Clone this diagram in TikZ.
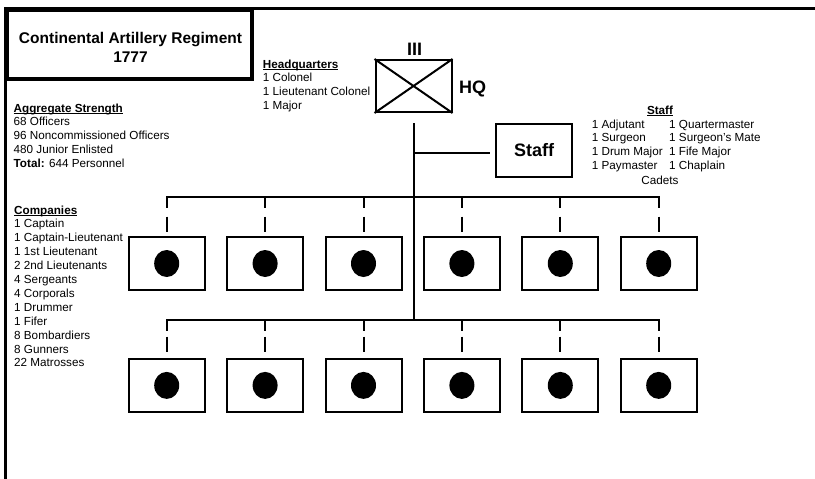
\documentclass[tikz,border=0pt]{standalone}
\usepackage{fontspec}
\setmainfont{Liberation Sans}
\usetikzlibrary{shapes.geometric}
\newcommand\ulx[1]{\setbox0\hbox{#1}\rlap{\rule[-1.7pt]{\wd0}{0.9pt}}\box0}
\begin{document}
\begin{tikzpicture}[x=1pt,y=-1pt,
  txt/.style={inner sep=0pt, align=left, font=\fontsize{11.7}{13.9}\selectfont},
  bigb/.style={inner sep=0pt, font=\fontsize{18}{20}\selectfont\bfseries},
  unitbox/.style={draw, line width=2pt, minimum width=76pt, minimum height=53pt, inner sep=0pt},
  link/.style={line width=2pt},
  bus/.style={line width=2pt, line cap=rect},
  tickA/.style={line width=2pt, dash pattern=on 11pt off 8.5pt on 15pt off 30pt},
  tickB/.style={line width=2pt, dash pattern=on 10.7pt off 6pt on 15pt off 30pt},
  dot/.style={fill=black, ellipse, minimum width=25pt, minimum height=27pt, inner sep=0pt}]
\useasboundingbox (0,0) rectangle (815,479);
% frame
\draw[line width=3pt] (5.7,479) -- (5.7,8.3) -- (815,8.3);
% title (anchor base = last line's baseline)
\node[draw, line width=3.5pt, minimum width=245pt, minimum height=69pt, inner sep=0pt] (titlebox) at (129.5,44.5) {};
\node[inner sep=0pt, align=center, anchor=base, font=\fontsize{15.5}{19}\selectfont\bfseries] (title) at (130.5,62) {Continental Artillery Regiment\\1777};
% text blocks (anchor base = last line's baseline)
\node[txt, anchor=base west] (agg) at (13.5,167.6) {\textbf{\ulx{Aggregate Strength}}\\68 Officers\\96 Noncommissioned Officers\\480 Junior Enlisted\\\textbf{Total:} 644 Personnel};
\node[txt, anchor=base west] (hqtxt) at (262.7,109.7) {\textbf{\ulx{Headquarters}}\\1 Colonel\\1 Lieutenant Colonel\\1 Major};
\node[txt, anchor=base west] (comp) at (14,366.9) {\textbf{\ulx{Companies}}\\1 Captain\\1 Captain-Lieutenant\\1 1st Lieutenant\\2 2nd Lieutenants\\4 Sergeants\\4 Corporals\\1 Drummer\\1 Fifer\\8 Bombardiers\\8 Gunners\\22 Matrosses};
\node[txt, anchor=base] (stafhead) at (660,114) {\textbf{\ulx{Staff}}};
\node[txt, anchor=base west] (stafl) at (591.7,169.7) {1 Adjutant\\1 Surgeon\\1 Drum Major\\1 Paymaster};
\node[txt, anchor=base west] (stafr) at (669,169.7) {1 Quartermaster\\1 Surgeon's Mate\\1 Fife Major\\1 Chaplain};
\node[txt, anchor=base] (cadets) at (660,184) {Cadets};
% HQ
\node[unitbox, minimum height=52pt] (hq) at (413.5,86) {};
\draw[link] (hq.north west) -- (hq.south east) (hq.south west) -- (hq.north east);
\node[bigb, anchor=base] (iii) at (414.5,56) {III};
\node[bigb, anchor=base west] (hqlab) at (459,93) {HQ};
% Staff
\node[unitbox] (staff) at (534,150) {\fontsize{18}{20}\selectfont\bfseries Staff};
% buses
\coordinate (b1) at (414,197);
\coordinate (b2) at (414,320);
\coordinate (sj) at (414,152.7);
\draw[link] ([yshift=-10pt]hq.south) -- (hq.south |- b2);
\draw[link, shorten >=5pt] (sj) -- (staff.west |- sj);
% companies
\foreach \i/\x in {1/166.7,2/265.1,3/363.5,4/461.9,5/560.3,6/658.7}{
  \node[unitbox] (ca\i) at (\x,263.5) {};
  \node[dot] (da\i) at (ca\i.center) {};
  \node[unitbox] (cb\i) at (\x,385.4) {};
  \node[dot] (db\i) at (cb\i.center) {};
  \draw[tickA] (ca\i.north |- b1) -- (ca\i.north);
  \draw[tickB] (cb\i.north |- b2) -- (cb\i.north);
}
\draw[bus] (ca1.north |- b1) -- (ca6.north |- b1);
\draw[bus] (cb1.north |- b2) -- (cb6.north |- b2);
\end{tikzpicture}
\end{document}
